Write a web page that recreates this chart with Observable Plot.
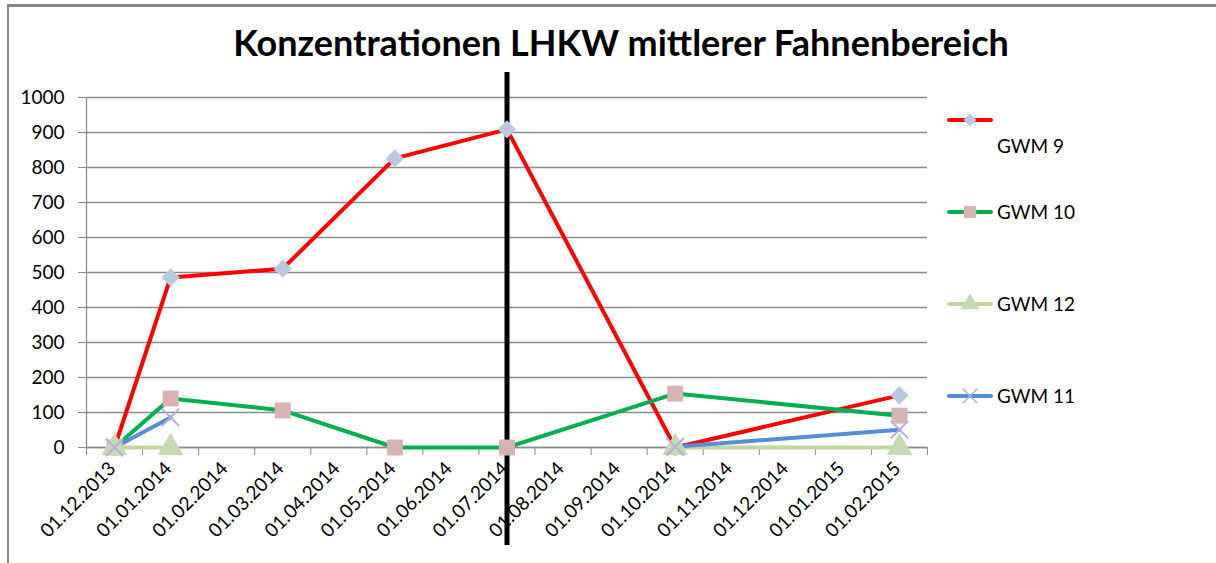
<!DOCTYPE html>
<html>
<head>
<meta charset="utf-8">
<script src="https://cdn.jsdelivr.net/npm/d3@7"></script>
<script src="https://cdn.jsdelivr.net/npm/@observablehq/plot@0.6"></script>
<style>
  body { margin: 0; background: #fff; }
  #chart { position: relative; width: 1216px; height: 563px; overflow: hidden; font-family: Lato, "Open Sans", sans-serif; }
  #frame { position: absolute; left: 7px; top: 4px; width: 1300px; height: 700px; border-left: 2px solid #888; border-top: 3px solid #888; }
  #title { position: absolute; left: 0; width: 1242px; top: 20px; text-align: center; font-size: 36px; font-weight: bold; color: #000; }
  #plot { position: absolute; left: 0; top: 0; }
  .leg { position: absolute; left: 946px; font-size: 19px; color: #000; }
</style>
</head>
<body>
<div id="chart">
  <div id="frame"></div>
  <div id="title">Konzentrationen LHKW mittlerer Fahnenbereich</div>
  <div id="plot"></div>
  <div id="legend"></div>
</div>
<script>
// ---- data ----
const months = ["01.12.2013","01.01.2014","01.02.2014","01.03.2014","01.04.2014","01.05.2014","01.06.2014","01.07.2014","01.08.2014","01.09.2014","01.10.2014","01.11.2014","01.12.2014","01.01.2015","01.02.2015"];
const dates = ["01.12.2013","01.01.2014","01.03.2014","01.05.2014","01.07.2014","01.10.2014","01.02.2015"];
const gwm9  = [0, 486, 511, 826, 909, 0, 149];
const gwm10 = [0, 140, 106, 0, 0, 154, 91];
const gwm12 = [0, 0, null, null, null, 0, 0];
const gwm11 = [0, 86, null, null, null, 2, 51];
const seriesNames = ["GWM 9", "GWM 10", "GWM 12", "GWM 11"];
const seriesValues = [gwm9, gwm10, gwm12, gwm11];
const lineColors = ["#ff0000", "#00b050", "#c3d69b", "#558ed5"];
const markerColors = ["#b9c9e2", "#d9b3b3", "#c6d9b0", "#b3b0d9"];
const markerSymbols = ["diamond2", "square", "triangle", "times"];
const yTicks = [0,100,200,300,400,500,600,700,800,900,1000];
const markerLineDates = ["01.07.2014"];

// ---- build ----
const idx = d => months.indexOf(d);
const boundaries = d3.range(months.length + 1).map(i => i - 0.5);

const marks = [
  Plot.gridY(yTicks, {stroke: "#8c8c8c", strokeOpacity: 1, strokeWidth: 1.3}),
  Plot.ruleX([-0.5], {y1: 0, y2: 1000, stroke: "#8c8c8c", strokeWidth: 1.3}),
  Plot.ruleY([0], {stroke: "#8c8c8c", strokeWidth: 1.3}),
  Plot.axisY({ticks: yTicks, tickSize: 8, tickPadding: 14, fontSize: 19, tickFormat: d => String(d), stroke: "#8c8c8c", label: null}),
  Plot.axisX({ticks: boundaries, tickSize: 8, tickFormat: () => "", stroke: "#8c8c8c", label: null}),
  Plot.axisX({ticks: d3.range(months.length), tickSize: 0, tickPadding: 18, dx: -2, tickRotate: -45, fontSize: 19, tickFormat: i => months[i], label: null})
];

seriesNames.forEach((name, s) => {
  const rows = dates.map((d, i) => ({x: idx(d), y: seriesValues[s][i]}));
  marks.push(Plot.line(rows, {x: "x", y: "y", stroke: lineColors[s], strokeWidth: 4, strokeLinejoin: "round", strokeLinecap: "round"}));
});
marks.push(Plot.ruleX(markerLineDates.map(idx), {stroke: "#000", strokeWidth: 5, insetTop: -25, insetBottom: -98}));
seriesNames.forEach((name, s) => {
  const rows = dates.map((d, i) => ({x: idx(d), y: seriesValues[s][i]})).filter(r => r.y != null);
  const sym = markerSymbols[s];
  const stroked = sym === "times";
  const r = sym === "square" ? 9 : sym === "triangle" ? 9.5 : sym === "diamond2" ? 8.3 : 8;
  marks.push(Plot.dot(rows, {
    x: "x", y: "y", symbol: () => sym, r,
    fill: stroked ? "none" : markerColors[s],
    stroke: stroked ? markerColors[s] : "none",
    strokeWidth: stroked ? 2 : 0
  }));
});

const chart = Plot.plot({
  width: 1216,
  height: 563,
  marginLeft: 86,
  marginRight: 289,
  marginTop: 97,
  marginBottom: 116,
  style: {fontFamily: "Lato, 'Open Sans', sans-serif", fontSize: "19px", color: "#000", background: "transparent"},
  x: {type: "linear", domain: [-0.5, months.length - 0.5], axis: null},
  y: {domain: [0, 1000], axis: null},
  symbol: {type: "identity"},
  marks
});
document.getElementById("plot").appendChild(chart);

// ---- legend ----
const legend = document.getElementById("legend");
const legendY = [120, 212, 304, 396];
seriesNames.forEach((name, s) => {
  const cy = legendY[s];
  const sw = d3.create("svg").attr("width", 50).attr("height", 20)
    .style("position", "absolute").style("left", "946px").style("top", (cy - 10) + "px");
  sw.append("line").attr("x1", 3).attr("x2", 45).attr("y1", 10).attr("y2", 10)
    .attr("stroke", lineColors[s]).attr("stroke-width", 4).attr("stroke-linecap", "round");
  const sym = markerSymbols[s];
  const symMap = {diamond2: d3.symbolDiamond2, square: d3.symbolSquare, triangle: d3.symbolTriangle, times: d3.symbolTimes};
  const size = sym === "square" ? 150 : sym === "triangle" ? 150 : sym === "diamond2" ? 110 : 140;
  const p = sw.append("path").attr("d", d3.symbol(symMap[sym], size)()).attr("transform", "translate(24,10)");
  if (sym === "times") p.attr("fill", "none").attr("stroke", markerColors[s]).attr("stroke-width", 1.5);
  else p.attr("fill", markerColors[s]);
  legend.appendChild(sw.node());
  const t = document.createElement("div");
  t.className = "leg";
  t.textContent = name;
  t.style.left = "997px";
  t.style.top = (s === 0 ? cy + 14 : cy - 12) + "px";
  legend.appendChild(t);
});
</script>
</body>
</html>
